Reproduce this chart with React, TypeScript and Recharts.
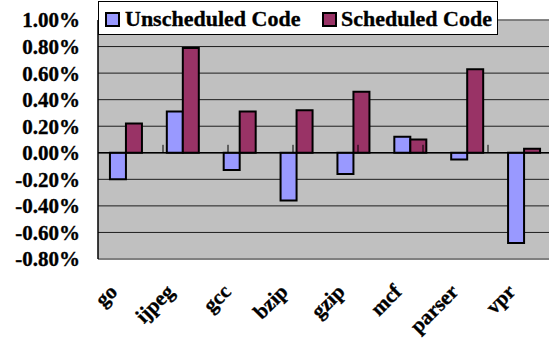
import React from 'react'
import {
  BarChart, Bar, XAxis, YAxis, CartesianGrid, ReferenceLine,
} from 'recharts'

const categories = ['go', 'ijpeg', 'gcc', 'bzip', 'gzip', 'mcf', 'parser', 'vpr']
const unscheduled = [-0.20, 0.31, -0.13, -0.36, -0.16, 0.12, -0.05, -0.68]
const scheduled = [0.22, 0.79, 0.31, 0.32, 0.46, 0.10, 0.63, 0.03]
const yTicks = [-0.8, -0.6, -0.4, -0.2, 0, 0.2, 0.4, 0.6, 0.8, 1.0]
const boundaries = [1, 2, 3, 4, 5, 6, 7]

const FONT = 'Liberation Serif, Times New Roman, serif'
const BLUE = '#9999FF'
const MAROON = '#993366'

const data = categories.map((name, i) => ({
  name,
  unscheduled: unscheduled[i],
  scheduled: scheduled[i],
}))

function AngledTick({ x, y, payload }: any) {
  return (
    <g transform={`translate(${x - 8},${y})`}>
      <text
        x={0}
        y={0}
        transform="rotate(-45)"
        textAnchor="end"
        fontFamily={FONT}
        fontWeight="bold"
        fontSize={21}
        fill="#000"
        stroke="#000"
        strokeWidth={0.35}
      >
        {payload.value}
      </text>
    </g>
  )
}

// legend box sits over the top of the plot, like the original
function LegendBox() {
  const swatch = (color: string, left: number) => (
    <div style={{
      position: 'absolute', left, top: 10, width: 15, height: 15, boxSizing: 'border-box',
      background: color, border: '2px solid #000',
    }} />
  )
  const label = (text: string, left: number) => (
    <div style={{ position: 'absolute', left, top: 0, height: 34, lineHeight: '34px' }}>{text}</div>
  )
  return (
    <div style={{
      position: 'absolute', left: 98, top: 1, width: 400, height: 34, boxSizing: 'border-box',
      background: '#fff', border: '1px solid #000',
      fontFamily: FONT, fontWeight: 'bold', fontSize: 22, color: '#000', whiteSpace: 'nowrap',
      WebkitTextStroke: '0.35px #000',
    }}>
      {swatch(BLUE, 6)}
      {label('Unscheduled Code', 26)}
      {swatch(MAROON, 223)}
      {label('Scheduled Code', 242)}
    </div>
  )
}

export default function App() {
  return (
    <div style={{
      position: 'absolute', left: 0, top: 0, width: 549, height: 341,
      overflow: 'hidden', background: '#fff',
    }}>
      <BarChart
        width={553}
        height={341}
        data={data}
        margin={{ top: 20, right: 0, bottom: 0, left: 0 }}
        barGap={0}
        barCategoryGap="21%"
      >
        <CartesianGrid vertical={false} fill="#C0C0C0" stroke="#000" strokeOpacity={0.85} />
        <XAxis
          dataKey="name"
          height={82}
          axisLine={false}
          tickLine={false}
          tickSize={0}
          tickMargin={34}
          interval={0}
          tick={<AngledTick />}
        />
        <XAxis xAxisId="b" type="number" domain={[0, 8]} hide />
        <YAxis
          width={98}
          domain={[-0.8, 1.0]}
          ticks={yTicks}
          interval={0}
          tickFormatter={(v: number) => `${v.toFixed(2)}%`}
          axisLine={{ stroke: '#000', strokeWidth: 1.5 }}
          tickLine={false}
          tickSize={0}
          tickMargin={18}
          tick={{ fontFamily: FONT, fontWeight: 'bold', fontSize: 21, fill: '#000', stroke: '#000', strokeWidth: 0.35 }}
        />
        <ReferenceLine y={1.0} stroke="#808080" strokeWidth={1.5} />
        <ReferenceLine y={-0.8} stroke="#808080" strokeWidth={2} />
        <ReferenceLine y={0} stroke="#000" strokeWidth={1.5} />
        {boundaries.map(b => (
          <ReferenceLine
            key={b}
            xAxisId="b"
            segment={[{ x: b, y: 0 }, { x: b, y: 0.06 }]}
            stroke="#000"
            strokeWidth={1}
          />
        ))}
        <Bar dataKey="unscheduled" fill={BLUE} stroke="#000" strokeWidth={2} isAnimationActive={false} />
        <Bar dataKey="scheduled" fill={MAROON} stroke="#000" strokeWidth={2} isAnimationActive={false} />
      </BarChart>
      <LegendBox />
    </div>
  )
}
